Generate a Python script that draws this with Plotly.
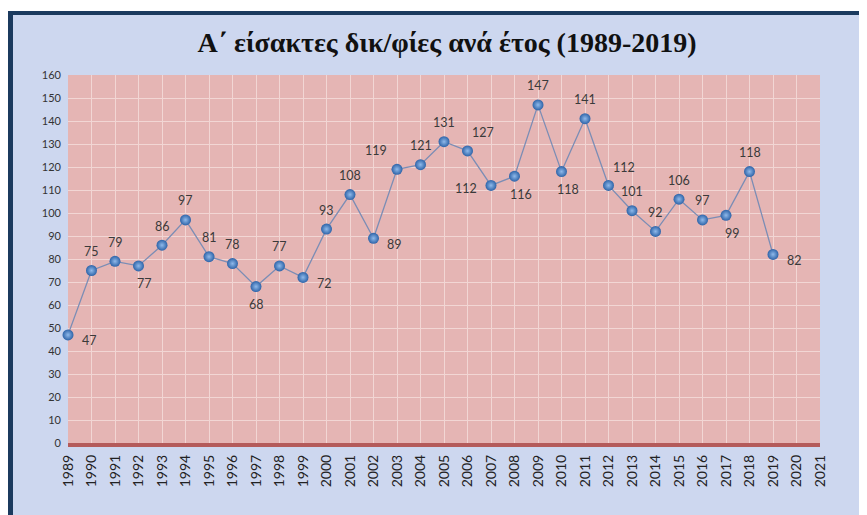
import plotly.graph_objects as go

# Α΄ είσακτες ανά έτος
years = list(range(1989, 2020))
values = [47, 75, 79, 77, 86, 97, 81, 78, 68, 77, 72, 93, 108, 89, 119, 121,
          131, 127, 112, 116, 147, 118, 141, 112, 101, 92, 106, 97, 99, 118, 82]
x_ticks = list(range(1989, 2022))
y_ticks = list(range(0, 161, 10))

# where each value label sits relative to its point
label_side = ['r', 't', 't', 'b', 't', 't', 't', 't', 'b0', 't',
              'r', 't', 't', 'r', 'tl', 't', 't', 'tr', 'l', 'b',
              't', 'b', 't', 'tr', 't', 't', 't', 't', 'b', 't', 'r']
shift = {'t': (0, 19), 'b': (6, -18), 'b0': (0, -18), 'r': (21, -6),
         'l': (-25, -3), 'tl': (-21, 19), 'tr': (15, 18)}

# the page body has an 8px margin, figure coordinates are offset by it
W, H = 859, 507
L, R, T, B = 60, 47, 67, 72
pw, ph = W - L - R, H - T - B


def px(x):
    return (x - L) / pw


def py(y):
    return (H - B - y) / ph


fig = go.Figure()
fig.add_trace(go.Scatter(
    x=years, y=values,
    mode='lines+markers',
    line=dict(color='#7b8db5', width=1.3),
    marker=dict(size=11, color='#2d63a8',
                gradient=dict(type='radial', color='#8fb9ea'),
                line=dict(width=0)),
    cliponaxis=False,
    showlegend=False,
    hovertemplate='%{x}: %{y}<extra></extra>',
))

for x, y, side in zip(years, values, label_side):
    dx, dy = shift[side]
    fig.add_annotation(x=x, y=y, text=str(y), showarrow=False,
                       xshift=dx, yshift=dy,
                       font=dict(family='Lato, Noto Sans', size=12.5, color='#3a3a3a'))

navy = '#1b3a5e'
shapes = [
    # floor of the plot area
    dict(type='rect', xref='paper', yref='paper', x0=0, x1=1, y0=py(ph + T + 4), y1=0,
         fillcolor='#b45b5b', line=dict(width=0), layer='above'),
    # white strip and dark frame round the page
    dict(type='rect', xref='paper', yref='paper', x0=px(0), x1=px(W), y0=py(3), y1=py(0),
         fillcolor='white', line=dict(width=0), layer='above'),
    dict(type='rect', xref='paper', yref='paper', x0=px(0), x1=px(W), y0=py(7), y1=py(3),
         fillcolor=navy, line=dict(width=0), layer='above'),
    dict(type='rect', xref='paper', yref='paper', x0=px(0), x1=px(5), y0=py(H), y1=py(3),
         fillcolor=navy, line=dict(width=0), layer='above'),
]

fig.update_layout(
    width=W, height=H,
    margin=dict(l=L, r=R, t=T, b=B),
    paper_bgcolor='#cdd7ef',
    plot_bgcolor='#e5b5b4',
    title=dict(text='<b>Α΄ είσακτες δικ/φίες ανά έτος (1989-2019)</b>',
               font=dict(family='Liberation Serif', size=28, color='#111111'),
               x=439 / W, xref='container', xanchor='center',
               y=1 - 34 / H, yref='container', yanchor='middle'),
    xaxis=dict(range=[1989, 2021], tickvals=x_ticks, ticktext=[str(v) for v in x_ticks],
               tickangle=-90, showgrid=True, gridcolor='#f2d6d4', gridwidth=1,
               zeroline=False, showline=False, ticks='', ticklabelstandoff=8,
               tickfont=dict(family='Lato, Noto Sans', size=14, color='#222222')),
    yaxis=dict(range=[0, 160], tickvals=y_ticks, showgrid=True, gridcolor='#f2d6d4',
               gridwidth=1, zeroline=False, showline=False, ticks='', ticklabelstandoff=6,
               tickfont=dict(family='Lato, Noto Sans', size=11, color='#333333')),
    shapes=shapes,
)

fig.write_html('out.html')
